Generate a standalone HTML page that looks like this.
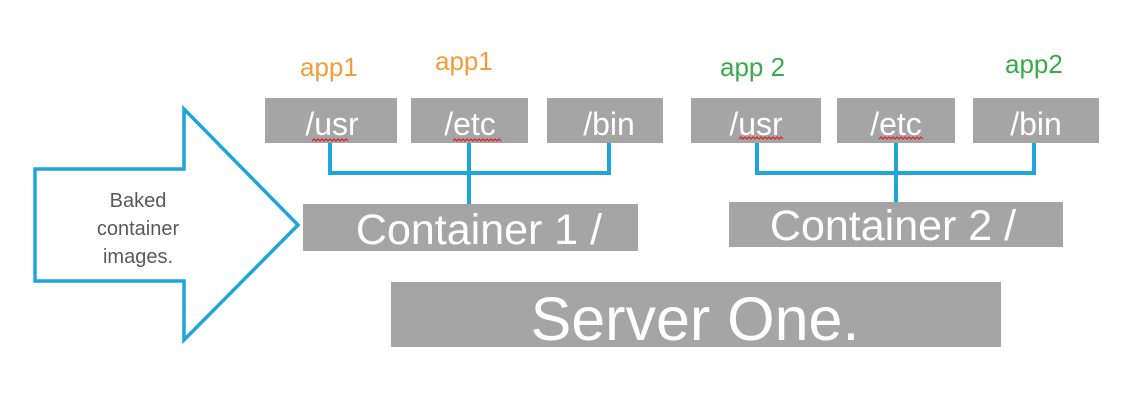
<!DOCTYPE html>
<html><head><meta charset="utf-8"><style>
html,body{margin:0;padding:0;background:#fff;width:1144px;height:420px;overflow:hidden}
svg{display:block;font-family:"Liberation Sans",Arial,sans-serif}
</style></head><body>
<svg width="1144" height="420" viewBox="0 0 1144 420">
<g fill="#a5a5a5">
<rect x="265" y="98" width="132" height="45"/>
<rect x="411" y="98" width="117" height="45"/>
<rect x="547" y="98" width="116" height="45"/>
<rect x="691" y="98" width="130" height="45"/>
<rect x="837" y="98" width="118" height="45"/>
<rect x="973" y="98" width="126" height="45"/>
<rect x="303" y="204" width="335" height="47"/>
<rect x="729" y="202" width="334" height="45"/>
<rect x="391" y="282" width="610" height="65"/>
</g>
<g stroke="#1ea5dc" stroke-width="4" fill="none">
<path d="M330 143V173H609V143M469 143V204"/>
<path d="M757 143V173H1034V143M896 143V202"/>
<path d="M35 169H184V109L298 225L184 340V281H35Z" stroke-width="3.5"/>
</g>
<g fill="#fff" font-size="32" text-anchor="middle">
<text x="332" y="135">/usr</text>
<text x="470" y="135">/etc</text>
<text x="609" y="135">/bin</text>
<text x="756" y="135">/usr</text>
<text x="896" y="135">/etc</text>
<text x="1036" y="135">/bin</text>
<text x="479" y="244" font-size="43">Container 1 /</text>
<text x="893" y="240" font-size="43">Container 2 /</text>
<text x="695" y="340" font-size="61">Server One.</text>
</g>
<g stroke="#e02020" stroke-width="1.2" fill="none">
<path d="M312 141l2-2 2 2 2-2 2 2 2-2 2 2 2-2 2 2 2-2 2 2 2-2 2 2 2-2 2 2 2-2 2 2 2-2 2 2"/>
<path d="M453 141l2-2 2 2 2-2 2 2 2-2 2 2 2-2 2 2 2-2 2 2 2-2 2 2 2-2 2 2 2-2 2 2 2-2 2 2 2-2 2 2 2-2 2 2 2-2 2 2"/>
<path d="M739 139l2-2 2 2 2-2 2 2 2-2 2 2 2-2 2 2 2-2 2 2 2-2 2 2 2-2 2 2 2-2 2 2 2-2 2 2 2-2 2 2 2-2 2 2"/>
<path d="M879 139l2-2 2 2 2-2 2 2 2-2 2 2 2-2 2 2 2-2 2 2 2-2 2 2 2-2 2 2 2-2 2 2 2-2 2 2 2-2 2 2 2-2 2 2"/>
</g>
<g font-size="26">
<text x="300" y="76" fill="#f39c3a">app1</text>
<text x="435" y="70" fill="#f39c3a">app1</text>
<text x="720" y="76" fill="#3aaa4a">app 2</text>
<text x="1005" y="73" fill="#3aaa4a">app2</text>
</g>
<g fill="#595959" font-size="20" text-anchor="middle">
<text x="138" y="207">Baked</text>
<text x="138" y="235">container</text>
<text x="138" y="263">images.</text>
</g>
</svg>
</body></html>
